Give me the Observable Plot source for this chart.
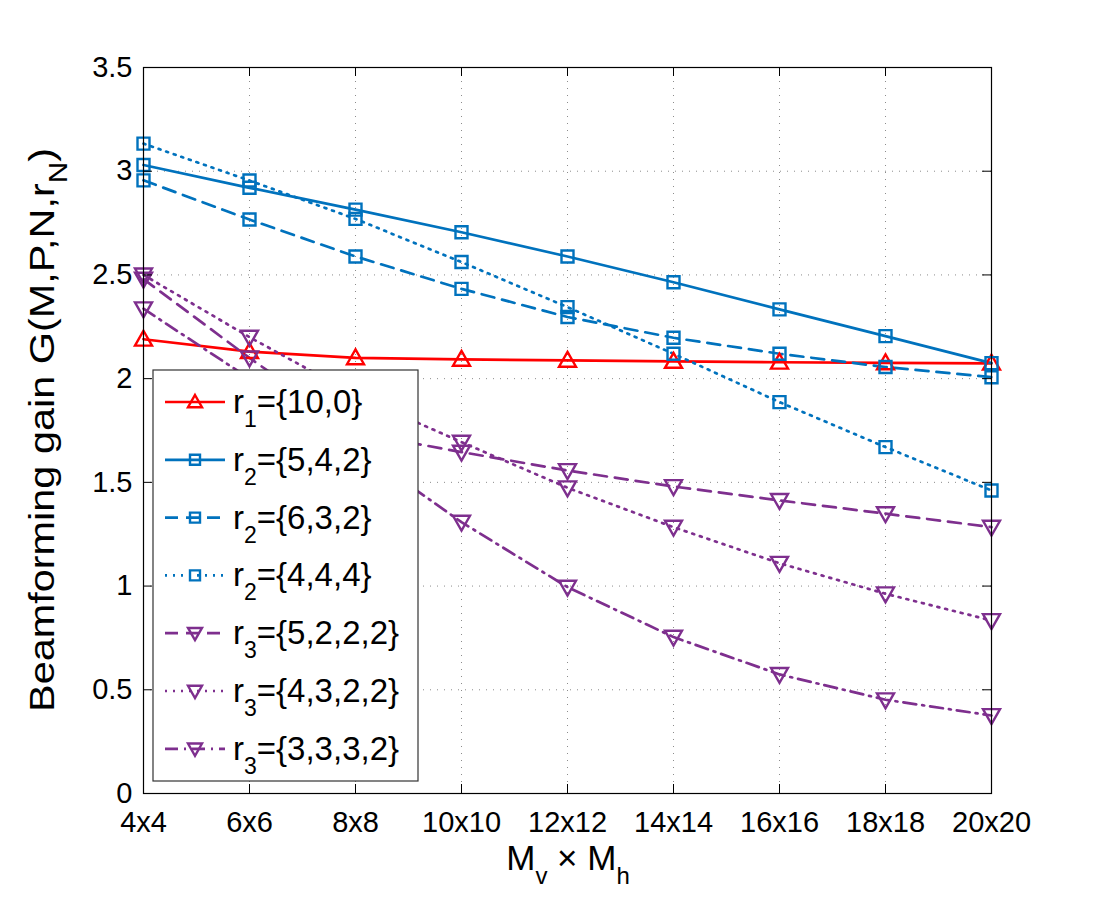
<!DOCTYPE html>
<html><head><meta charset="utf-8">
<script src="https://cdn.jsdelivr.net/npm/d3@7"></script>
<script src="https://cdn.jsdelivr.net/npm/@observablehq/plot@0.6"></script>
<style>body{margin:0;background:#fff}#chart{position:relative;width:1094px;height:898px}</style>
</head><body><div id="chart"></div>
<script>
// ---- data ----
const categories = ["4x4","6x6","8x8","10x10","12x12","14x14","16x16","18x18","20x20"];
const yTicks = [0, 0.5, 1, 1.5, 2, 2.5, 3, 3.5];
const r1_10_0   = [2.19, 2.13, 2.10, 2.093, 2.088, 2.083, 2.079, 2.076, 2.074];
const r2_5_4_2  = [3.03, 2.92, 2.815, 2.706, 2.589, 2.465, 2.334, 2.205, 2.075];
const r2_6_3_2  = [2.956, 2.767, 2.589, 2.433, 2.297, 2.197, 2.12, 2.056, 2.007];
const r2_4_4_4  = [3.133, 2.955, 2.77, 2.562, 2.345, 2.12, 1.887, 1.67, 1.461];
const r3_5_2_2_2 = [2.48, 2.10, 1.74, 1.646, 1.557, 1.48, 1.413, 1.349, 1.284];
const r3_4_3_2_2 = [2.50, 2.20, 1.92, 1.694, 1.474, 1.284, 1.11, 0.963, 0.834];
const r3_3_3_3_2 = [2.337, 2.00, 1.67, 1.308, 0.995, 0.754, 0.574, 0.452, 0.376];
const seriesSub  = ["1", "2", "2", "2", "3", "3", "3"];
const seriesSet  = ["={10,0}", "={5,4,2}", "={6,3,2}", "={4,4,4}", "={5,2,2,2}", "={4,3,2,2}", "={3,3,3,2}"];
const seriesValues = [r1_10_0, r2_5_4_2, r2_6_3_2, r2_4_4_4, r3_5_2_2_2, r3_4_3_2_2, r3_3_3_3_2];
const xLabelParts = ["M", "v", " \u00d7 M", "h"];
const yLabelParts = ["Beamforming gain G(M,P,N,r", "N", ")"];

// ---- styles ----
const RED = "#ff0000", BLUE = "#0072bd", PURPLE = "#7e2f8e";
const DASH = "13,8", DOT = "2,6", DASHDOT = "13,6,2,6";
const sqr = {draw(ctx, size){ const s = Math.sqrt(size/Math.PI); ctx.moveTo(-s,-s); ctx.lineTo(s,-s); ctx.lineTo(s,s); ctx.lineTo(-s,s); ctx.closePath(); }};
const triUp = {draw(ctx, size){ const s = Math.sqrt(size/Math.PI); ctx.moveTo(0,-s); ctx.lineTo(s,s*0.75); ctx.lineTo(-s,s*0.75); ctx.closePath(); }};
const triDown = {draw(ctx, size){ const s = Math.sqrt(size/Math.PI); ctx.moveTo(-s,-s*0.75); ctx.lineTo(s,-s*0.75); ctx.lineTo(0,s); ctx.closePath(); }};
const styles = [
  {color: RED, dash: null, sym: triUp, r: 8.5, lr: 7},
  {color: BLUE, dash: null, sym: sqr, r: 6, lr: 5},
  {color: BLUE, dash: DASH, sym: sqr, r: 6, lr: 5},
  {color: BLUE, dash: DOT, sym: sqr, r: 6, lr: 5},
  {color: PURPLE, dash: DASH, sym: triDown, r: 8.5, lr: 7},
  {color: PURPLE, dash: DOT, sym: triDown, r: 8.5, lr: 7},
  {color: PURPLE, dash: DASHDOT, sym: triDown, r: 8.5, lr: 7}
];

const W = 1094, H = 898, ML = 143, MR = 103, MT = 67, MB = 105;
const FW = W - ML - MR, FH = H - MT - MB, TICK = 9;
const FONT = "'Liberation Sans', Arial, Helvetica, sans-serif";

const lineMarks = [], dotMarks = [];
seriesValues.forEach((vals, i) => {
  const data = vals.map((v, j) => ({cat: categories[j], value: v}));
  const st = styles[i];
  lineMarks.push(Plot.line(data, {x: "cat", y: "value", stroke: st.color, strokeWidth: 2.7,
    strokeDasharray: st.dash || undefined}));
  dotMarks.push(Plot.dot(data, {x: "cat", y: "value", symbol: st.sym, r: st.r, stroke: st.color,
    strokeWidth: 2.4, fill: "none"}));
});

const chart = Plot.plot({
  width: W, height: H, marginLeft: ML, marginRight: MR, marginTop: MT, marginBottom: MB,
  style: {fontFamily: FONT, fontSize: "29px", background: "white", color: "black", overflow: "visible"},
  x: {type: "point", domain: categories, padding: 0},
  y: {domain: [0, 3.5]},
  marks: [
    Plot.ruleX(categories.slice(1, -1), {stroke: "#8c8c8c", strokeWidth: 1, strokeDasharray: "1,6"}),
    Plot.ruleY(yTicks.slice(1, -1), {stroke: "#8c8c8c", strokeWidth: 1, strokeDasharray: "1,6"}),
    ...lineMarks,
    ...dotMarks,
    Plot.ruleX(categories, {insetTop: FH - TICK, stroke: "black"}),
    Plot.ruleX(categories, {insetBottom: FH - TICK, stroke: "black"}),
    Plot.ruleY(yTicks, {insetRight: FW - TICK, stroke: "black"}),
    Plot.ruleY(yTicks, {insetLeft: FW - TICK, stroke: "black"}),
    Plot.axisX({tickSize: 0, tickPadding: 18, fontSize: 29, label: null}),
    Plot.axisY({ticks: yTicks, tickSize: 0, tickPadding: 11, fontSize: 29, label: null, tickFormat: d => String(d)}),
    Plot.frame({stroke: "black", strokeWidth: 1.2})
  ]
});
document.getElementById("chart").appendChild(chart);

// ---- axis titles & legend (decoration) ----
const svg = d3.select(chart);
const xt = svg.append("text").attr("x", 568).attr("y", 870).attr("text-anchor", "middle")
  .style("font-family", FONT).style("font-size", "35px").attr("fill", "black");
xt.append("tspan").text(xLabelParts[0]);
xt.append("tspan").text(xLabelParts[1]).attr("dy", 14).style("font-size", "24px");
xt.append("tspan").text(xLabelParts[2]).attr("dy", -14);
xt.append("tspan").text(xLabelParts[3]).attr("dy", 14).style("font-size", "24px");

const yt = svg.append("text").attr("transform", "translate(54,430) rotate(-90)").attr("text-anchor", "middle")
  .attr("textLength", 564).attr("lengthAdjust", "spacingAndGlyphs")
  .style("font-family", FONT).style("font-size", "35px").attr("fill", "black");
yt.append("tspan").text(yLabelParts[0]);
yt.append("tspan").text(yLabelParts[1]).attr("dy", 13).style("font-size", "25px");
yt.append("tspan").text(yLabelParts[2]).attr("dy", -13);

const lg = svg.append("g");
lg.append("rect").attr("x", 153).attr("y", 370).attr("width", 265).attr("height", 411)
  .attr("fill", "white").attr("stroke", "#333").attr("stroke-width", 1.2);
seriesSub.forEach((sub, i) => {
  const y = 402 + i * 57.8, st = styles[i];
  lg.append("line").attr("x1", 165).attr("x2", 225).attr("y1", y).attr("y2", y)
    .attr("stroke", st.color).attr("stroke-width", 2.7).attr("stroke-dasharray", st.dash || null);
  lg.append("path").attr("d", d3.symbol(st.sym, Math.PI * st.lr * st.lr)()).attr("transform", `translate(195,${y})`)
    .attr("fill", "none").attr("stroke", st.color).attr("stroke-width", 2.4);
  const t = lg.append("text").attr("x", 233).attr("y", y + 11).attr("text-anchor", "start")
    .style("font-family", FONT).style("font-size", "33px").attr("fill", "black");
  t.append("tspan").text("r");
  t.append("tspan").text(sub).attr("dy", 14).style("font-size", "23px");
  t.append("tspan").text(seriesSet[i]).attr("dy", -14);
});
</script>
</body></html>
